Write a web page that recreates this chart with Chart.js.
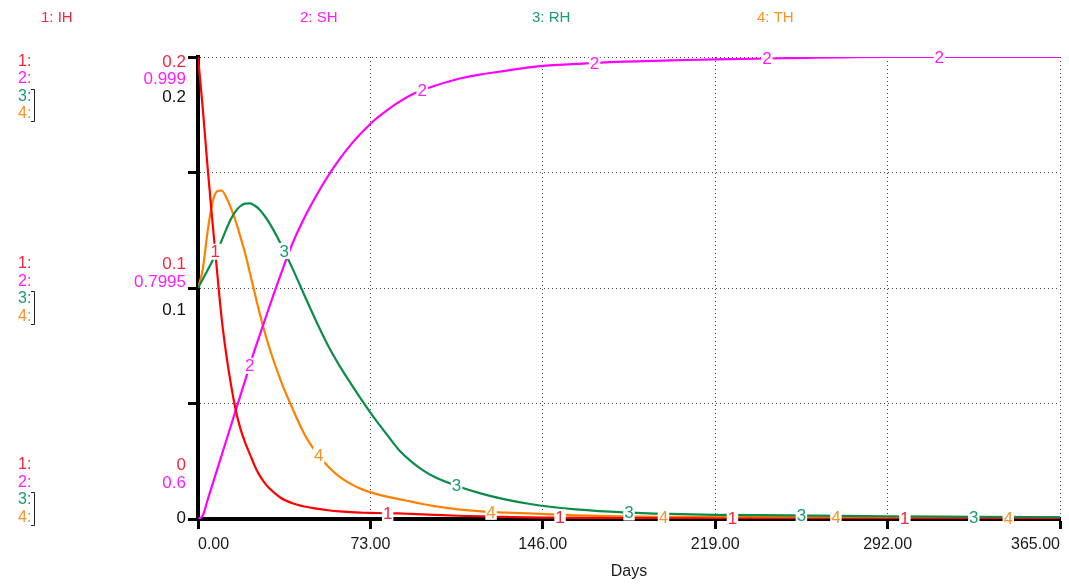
<!DOCTYPE html>
<html>
<head>
<meta charset="utf-8">
<script src="https://cdn.jsdelivr.net/npm/chart.js@4.4.1/dist/chart.umd.min.js"></script>
<style>
  html, body { margin: 0; padding: 0; background: #fff; }
  #wrap { width: 1069px; height: 585px; }
</style>
</head>
<body>
<div id="wrap"><canvas id="simChart"></canvas></div>
<script>
// --- Dane symulacji (dni, wartości) ---
const days = [0, 2, 4, 6, 8, 10, 12, 14, 16, 18, 20, 22, 24, 26, 28, 30, 35, 40, 45, 50,
  55, 60, 65, 70, 75, 80, 85, 90, 95, 100, 110, 120, 130, 140, 150, 160, 180, 200,
  219, 250, 292, 330, 365];

const ihValues = [0.200, 0.178, 0.153, 0.130, 0.108, 0.087, 0.071, 0.058, 0.047, 0.039,
  0.033, 0.028, 0.023, 0.019, 0.016, 0.0135, 0.0092, 0.0068, 0.0054, 0.0045,
  0.0038, 0.0033, 0.0030, 0.0027, 0.0026, 0.0025, 0.0024, 0.0022, 0.0020, 0.0018,
  0.0014, 0.0011, 0.0009, 0.0007, 0.0006, 0.0005, 0.0004, 0.0003,
  0.0002, 0.0001, 0.0001, 0.0001, 0.0];

const shValues = [0.600, 0.603, 0.616, 0.629, 0.642, 0.655, 0.668, 0.681, 0.694, 0.707,
  0.720, 0.733, 0.746, 0.758, 0.770, 0.782, 0.811, 0.838, 0.860, 0.879,
  0.896, 0.911, 0.924, 0.935, 0.945, 0.953, 0.960, 0.966, 0.9705, 0.974,
  0.980, 0.984, 0.987, 0.990, 0.992, 0.993, 0.995, 0.996,
  0.997, 0.998, 0.999, 0.999, 0.999];

const rhValues = [0.100, 0.1038, 0.1076, 0.1116, 0.1158, 0.1205, 0.1255, 0.1300, 0.1333, 0.1355,
  0.1365, 0.1366, 0.1357, 0.1340, 0.1315, 0.1285, 0.1192, 0.1085, 0.0970, 0.0857,
  0.0752, 0.0662, 0.0582, 0.0505, 0.0432, 0.0365, 0.0300, 0.0252, 0.0213, 0.0183,
  0.0142, 0.0110, 0.0085, 0.0066, 0.0052, 0.0042, 0.0029, 0.0022,
  0.0018, 0.0016, 0.0012, 0.0009, 0.0008];

const thValues = [0.100, 0.108, 0.124, 0.1365, 0.1418, 0.1422, 0.1392, 0.1345, 0.1288, 0.1220,
  0.1148, 0.1065, 0.0978, 0.0895, 0.0818, 0.0748, 0.0600, 0.0478, 0.0368, 0.0288,
  0.0228, 0.0182, 0.0150, 0.0126, 0.0110, 0.0097, 0.0086, 0.0076, 0.0065, 0.0056,
  0.0042, 0.0033, 0.0028, 0.0024, 0.0020, 0.0016, 0.0011, 0.0009,
  0.0009, 0.0008, 0.0006, 0.0005, 0.0004];

const seriesNames = ['IH', 'SH', 'RH', 'TH'];
const lineColors = ['#ff0000', '#ff00ff', '#0b8c48', '#ff8000'];
const textColors = ['#f4263f', '#ff1eff', '#1a9c72', '#f8922a'];

// zakresy osi: 1,3,4 -> 0..0.2, 2 -> 0.6..0.999
const rangeMain = [0, 0.2];
const rangeSH = [0.6, 0.999];
const xTicksStep = 73;

const FONT = "'Liberation Sans', Arial, sans-serif";
Chart.defaults.font.family = FONT;

function toPoints(vals) {
  return days.map((d, i) => ({ x: d, y: vals[i] }));
}

// wartość serii dla dowolnego dnia (interpolacja liniowa)
function valueAt(vals, day) {
  for (let i = 1; i < days.length; i++) {
    if (day <= days[i]) {
      const t = (day - days[i - 1]) / (days[i] - days[i - 1]);
      return vals[i - 1] + t * (vals[i] - vals[i - 1]);
    }
  }
  return vals[vals.length - 1];
}

function fmt(v) {
  return String(Number(v.toFixed(4)));
}

// --- Numery serii na liniach ---
const curveNumbers = {
  id: 'curveNumbers',
  afterDatasetsDraw(chart) {
    const ctx = chart.ctx;
    const xs = chart.scales.x;
    ctx.save();
    ctx.font = '17px ' + FONT;
    ctx.textAlign = 'center';
    ctx.textBaseline = 'middle';
    chart.data.datasets.forEach((ds, i) => {
      const ys = chart.scales[ds.yAxisID];
      const first = 7.3 + 14.6 * i;
      for (let d = first; d <= 365; d += 73) {
        const px = xs.getPixelForValue(d);
        const py = ys.getPixelForValue(valueAt(ds.rawValues, d));
        const label = String(i + 1);
        const w = ctx.measureText(label).width;
        ctx.fillStyle = '#fff';
        ctx.fillRect(px - w / 2 - 1, py - 8, w + 2, 16);
        ctx.fillStyle = textColors[i];
        ctx.fillText(label, px, py + 1);
      }
    });
    ctx.restore();
  }
};

// --- Legenda u góry i opisy osi po lewej ---
const sideLabels = {
  id: 'sideLabels',
  afterDraw(chart) {
    const ctx = chart.ctx;
    const ym = chart.scales.y;
    ctx.save();

    // legenda
    ctx.font = '15px ' + FONT;
    ctx.textBaseline = 'middle';
    ctx.textAlign = 'left';
    const legendX = [41, 300, 532, 757];
    seriesNames.forEach((n, i) => {
      ctx.fillStyle = textColors[i];
      ctx.fillText((i + 1) + ': ' + n, legendX[i], 18);
    });

    // trzy grupy opisów: góra, środek, dół
    const mainVals = [rangeMain[1], (rangeMain[0] + rangeMain[1]) / 2, rangeMain[0]];
    const shVals = [rangeSH[1], (rangeSH[0] + rangeSH[1]) / 2, rangeSH[0]];
    const groups = [
      { base: ym.getPixelForValue(mainVals[0]), rows: [5, 22, 40, 57], black: 40 },
      { base: ym.getPixelForValue(mainVals[1]), rows: [-24, -6, 11, 29], black: 22 },
      { base: ym.getPixelForValue(mainVals[2]), rows: [-54, -36, -19, -1], black: -1 }
    ];
    groups.forEach((g, gi) => {
      ctx.font = '16px ' + FONT;
      ctx.textAlign = 'left';
      g.rows.forEach((r, i) => {
        ctx.fillStyle = textColors[i];
        ctx.fillText((i + 1) + ':', 18, g.base + r);
      });
      // nawias dla serii 3 i 4 (wspólna skala)
      const bTop = g.base + g.rows[2] - 8;
      const bBot = g.base + g.rows[3] + 7;
      ctx.strokeStyle = '#222';
      ctx.lineWidth = 1;
      ctx.beginPath();
      ctx.moveTo(31, bTop + 0.5);
      ctx.lineTo(34.5, bTop + 0.5);
      ctx.lineTo(34.5, bBot + 0.5);
      ctx.lineTo(31, bBot + 0.5);
      ctx.stroke();

      ctx.font = '17px ' + FONT;
      ctx.textAlign = 'right';
      ctx.fillStyle = textColors[0];
      ctx.fillText(fmt(mainVals[gi]), 186, g.base + g.rows[0]);
      ctx.fillStyle = textColors[1];
      ctx.fillText(fmt(shVals[gi]), 186, g.base + g.rows[1]);
      ctx.fillStyle = '#111';
      ctx.fillText(fmt(mainVals[gi]), 186, g.base + g.black);
    });
    ctx.restore();
  }
};

const datasetsCfg = [ihValues, shValues, rhValues, thValues].map((vals, i) => ({
  label: (i + 1) + ': ' + seriesNames[i],
  data: toPoints(vals),
  rawValues: vals,
  yAxisID: i === 1 ? 'y2' : 'y',
  borderColor: lineColors[i],
  borderWidth: 2.2,
  pointRadius: 0,
  cubicInterpolationMode: 'monotone',
  fill: false
}));

new Chart(document.getElementById('simChart'), {
  type: 'line',
  data: { datasets: datasetsCfg },
  options: {
    responsive: true,
    maintainAspectRatio: false,
    animation: false,
    layout: { padding: { left: 0, right: 9, top: 57, bottom: 0 } },
    plugins: {
      legend: { display: false },
      tooltip: { enabled: false }
    },
    scales: {
      x: {
        type: 'linear',
        min: 0,
        max: 365,
        afterFit: (s) => { s.height = 66; },
        ticks: {
          stepSize: xTicksStep,
          autoSkip: false,
          maxRotation: 0,
          align: 'inner',
          padding: 6,
          color: '#1a1a1a',
          font: { size: 16 },
          callback: (v) => Number(v).toFixed(2)
        },
        grid: {
          color: '#444',
          lineWidth: 1,
          tickLength: 10,
          tickWidth: 3,
          tickColor: '#000'
        },
        border: { display: true, color: '#000', width: 4, dash: [1, 3] },
        title: {
          display: true,
          text: 'Days',
          color: '#1a1a1a',
          font: { size: 16 },
          padding: { top: 4, bottom: 4 }
        }
      },
      y: {
        type: 'linear',
        position: 'left',
        min: rangeMain[0],
        max: rangeMain[1],
        afterFit: (s) => { s.width = 198; },
        ticks: { display: false, stepSize: 0.05 },
        grid: {
          color: '#444',
          lineWidth: 1,
          tickLength: 10,
          tickWidth: 3,
          tickColor: '#000'
        },
        border: { display: true, color: '#000', width: 4, dash: [1, 3] }
      },
      y2: {
        type: 'linear',
        display: false,
        min: rangeSH[0],
        max: rangeSH[1]
      }
    }
  },
  plugins: [curveNumbers, sideLabels]
});
</script>
</body>
</html>
